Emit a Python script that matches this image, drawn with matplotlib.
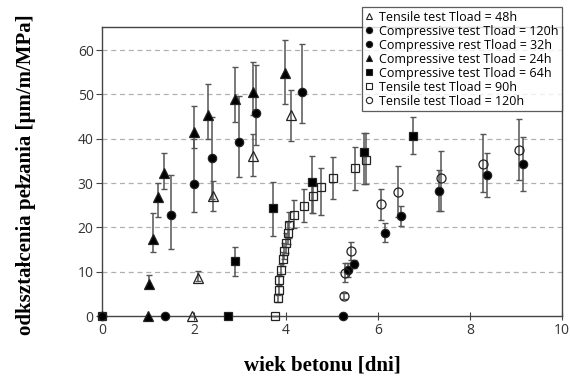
import matplotlib
matplotlib.use("Agg")
import matplotlib.pyplot as plt
import numpy as np

# tensile test, Tload = 48h (open triangles)
t48_x = [1.96, 2.09, 2.42, 3.28, 4.11]
t48_y = [0, 8.7, 27.1, 36.1, 45.3]
t48_lo = [0, 8.0, 23.7, 31.7, 39.5]
t48_hi = [0, 10.1, 30.5, 41.0, 51.1]

# compressive test, Tload = 120h (filled circles)
c120_x = [5.23, 5.35, 5.48, 6.15, 6.5, 7.33, 8.36, 9.16]
c120_y = [0, 10.5, 11.7, 18.8, 22.6, 28.2, 31.8, 34.4]
c120_lo = [0, 8.9, 10.8, 16.8, 20.3, 23.6, 26.8, 28.3]
c120_hi = [0, 11.9, 12.6, 21.0, 24.8, 32.9, 36.7, 40.5]

# compressive test, Tload = 32h (filled circles)
c32_x = [0, 1.37, 1.49, 1.99, 2.38, 2.98, 3.34, 4.35]
c32_y = [0, 0, 22.9, 29.7, 35.7, 39.2, 45.7, 50.6]
c32_lo = [0, 0, 15.1, 23.5, 26.5, 31.4, 38.7, 43.5]
c32_hi = [0, 0, 31.8, 39.9, 45.0, 49.6, 56.6, 61.3]

# compressive test, Tload = 24h (filled triangles)
c24_x = [1.0, 1.03, 1.10, 1.22, 1.35, 2.0, 2.31, 2.89, 3.28, 3.98]
c24_y = [0, 7.2, 17.5, 26.9, 32.2, 41.5, 45.3, 49.0, 50.6, 54.8]
c24_lo = [0, 6.3, 14.4, 22.3, 28.6, 37.9, 40.0, 43.7, 45.3, 47.8]
c24_hi = [0, 9.2, 23.3, 30.1, 36.8, 47.4, 52.3, 56.2, 57.4, 62.3]

# compressive test, Tload = 64h (filled squares)
c64_x = [2.73, 2.89, 3.71, 4.57, 5.70, 6.75]
c64_y = [0, 12.5, 24.3, 30.2, 36.9, 40.7]
c64_lo = [0, 9.0, 18.0, 23.2, 29.9, 36.5]
c64_hi = [0, 15.6, 30.3, 36.1, 41.2, 44.8]

# tensile test, Tload = 90h (open squares)
t90_x = [0, 3.76, 3.83, 3.85, 3.85, 3.88, 3.93, 3.96, 4.01, 4.05, 4.07,
         4.18, 4.38, 4.59, 4.76, 5.03, 5.50, 5.73]
t90_y = [0, 0, 4.0, 5.9, 8.1, 10.4, 12.8, 14.7, 16.5, 18.7, 20.5,
         22.7, 24.8, 27.1, 29.1, 31.2, 33.3, 35.3]
t90_lo = [0, 0, 3.3, 5.0, 7.0, 9.0, 11.2, 12.8, 14.3, 16.2, 17.6,
          19.8, 21.3, 23.2, 22.8, 26.5, 28.4, 29.9]
t90_hi = [0, 0, 4.7, 6.8, 9.2, 11.8, 14.4, 16.6, 18.7, 21.2, 23.4,
          26.2, 28.6, 31.0, 33.3, 35.8, 38.2, 41.2]

# tensile test, Tload = 120h (open circles)
t120_x = [5.25, 5.28, 5.41, 6.06, 6.44, 7.36, 8.29, 9.07]
t120_y = [4.5, 9.8, 14.7, 25.3, 28.0, 31.2, 34.4, 37.4]
t120_lo = [3.8, 7.7, 12.6, 21.7, 22.4, 23.8, 27.9, 30.7]
t120_hi = [5.2, 12.0, 16.8, 28.6, 33.8, 37.3, 41.0, 44.4]

x_ticks = [0, 2, 4, 6, 8, 10]
y_ticks = [0, 10, 20, 30, 40, 50, 60]

series = [
    (t48_x, t48_y, t48_lo, t48_hi, '^', 'none', 7, 'Tensile test Tload = 48h'),
    (c120_x, c120_y, c120_lo, c120_hi, 'o', 'black', 6, 'Compressive test Tload = 120h'),
    (c32_x, c32_y, c32_lo, c32_hi, 'o', 'black', 6, 'Compressive rest Tload = 32h'),
    (c24_x, c24_y, c24_lo, c24_hi, '^', 'black', 6.5, 'Compressive test Tload = 24h'),
    (c64_x, c64_y, c64_lo, c64_hi, 's', 'black', 5.5, 'Compressive test Tload = 64h'),
    (t90_x, t90_y, t90_lo, t90_hi, 's', 'none', 6, 'Tensile test Tload = 90h'),
    (t120_x, t120_y, t120_lo, t120_hi, 'o', 'none', 6.5, 'Tensile test Tload = 120h'),
]

fig = plt.figure(figsize=(5.7, 3.8), dpi=100)
ax = fig.add_axes([0.179, 0.168, 0.807, 0.761])

handles = []
for x, y, lo, hi, m, fc, ms, lab in series:
    y = np.array(y)
    yerr = [y - np.array(lo), np.array(hi) - y]
    ax.errorbar(x, y, yerr=yerr, fmt='none', ecolor='#555555', elinewidth=1.1,
                capsize=2.5, capthick=1.0, clip_on=False, zorder=3)
    ax.plot(x, y, linestyle='none', marker=m, markersize=ms, markerfacecolor=fc,
            markeredgecolor='#222222', markeredgewidth=0.9, clip_on=False, zorder=4)
    h, = ax.plot([], [], linestyle='none', marker=m, markersize=4.5, markerfacecolor=fc,
                 markeredgecolor='#222222', markeredgewidth=0.8, label=lab)
    handles.append(h)

ax.set_xlim(0, 10)
ax.set_ylim(0, 65.2)
ax.set_xticks(x_ticks)
ax.set_yticks(y_ticks)
for v in y_ticks[1:]:
    ax.axhline(v, color='#b0b0b0', linestyle=(0, (4, 3)), linewidth=0.9, zorder=1)

for s in ax.spines.values():
    s.set_color('#444444')
    s.set_linewidth(1.0)
ax.tick_params(axis='y', direction='out', length=4, color='#444444',
               labelsize=10, labelcolor='#333333', pad=2)
ax.tick_params(axis='x', direction='inout', length=6, color='#444444',
               labelsize=10, labelcolor='#333333', pad=2)
for t in ax.get_xticklabels() + ax.get_yticklabels():
    t.set_fontfamily('Open Sans')

ax.set_xlabel('wiek betonu [dni]', fontfamily='Liberation Serif', fontweight='bold',
              fontsize=15, va='center')
ax.xaxis.set_label_coords(0.478, -0.17)
ax.set_ylabel('odkształcenia pełzania [µm/m/MPa]', fontfamily='Liberation Serif',
              fontweight='bold', fontsize=15, va='center')
ax.yaxis.set_label_coords(-0.165, 0.488)

leg = fig.legend(handles=handles, loc='upper right', bbox_to_anchor=(0.986, 0.982),
                 borderaxespad=0, frameon=True, fancybox=False,
                 prop={'family': 'Open Sans', 'size': 9}, handlelength=0.6,
                 handletextpad=0.45, labelspacing=0.08, borderpad=0.3)
leg.get_frame().set_edgecolor('#333333')
leg.get_frame().set_linewidth(0.9)

fig.savefig('out.png', dpi=100)
